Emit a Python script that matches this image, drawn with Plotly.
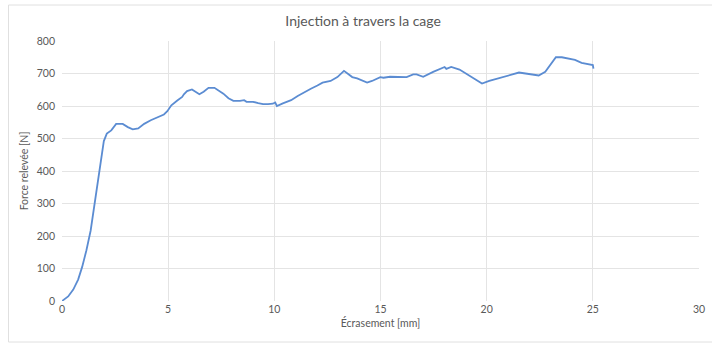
import plotly.graph_objects as go

ecrasement_mm = [0, 0.29, 0.53, 0.76, 0.95, 1.15, 1.35, 1.51, 1.66, 1.82, 1.97, 2.11, 2.32, 2.55, 2.86,
                 3.1, 3.33, 3.59, 3.87, 4.18, 4.49, 4.8, 4.96, 5.15, 5.43, 5.66, 5.74, 5.89, 6.12, 6.28,
                 6.47, 6.67, 6.9, 7.18, 7.37, 7.6, 7.84, 8.07, 8.38, 8.58, 8.69, 9.0, 9.24, 9.47, 9.7,
                 9.93, 10.04, 10.12, 10.4, 10.79, 11.1, 11.41, 11.72, 12.03, 12.27, 12.65, 12.97, 13.28,
                 13.43, 13.67, 13.9, 14.37, 14.6, 14.99, 15.14, 15.45, 16.23, 16.54, 16.7, 17.01, 17.48,
                 18.02, 18.1, 18.33, 18.72, 19.19, 19.78, 20.12, 20.58, 21.05, 21.52, 21.83, 22.14, 22.45,
                 22.76, 23.0, 23.26, 23.54, 23.85, 24.16, 24.47, 24.78, 25.0, 25.03]
force_N = [0, 14, 35, 66, 105, 156, 217, 288, 370, 441, 492, 515, 525, 545, 545,
           535, 528, 531, 545, 556, 566, 574, 584, 602, 617, 628, 636, 646, 651, 644,
           636, 644, 656, 656, 648, 638, 624, 616, 616, 618, 613, 613, 609, 606, 606,
           607, 611, 600, 608, 618, 631, 643, 653, 663, 672, 677, 689, 708,
           700, 689, 685, 672, 677, 689, 687, 690, 689, 697, 697, 690, 705,
           720, 714, 720, 712, 692, 669, 677, 686, 694, 703, 700, 697, 694,
           705, 728, 750, 750, 746, 742, 733, 728, 726, 715]

x_ticks = [0, 5, 10, 15, 20, 25, 30]
y_ticks = [0, 100, 200, 300, 400, 500, 600, 700, 800]

grey = "#595959"
font = "Lato, 'Open Sans', sans-serif"

fig = go.Figure()
fig.add_trace(go.Scatter(x=ecrasement_mm, y=force_N, mode="lines",
                         line=dict(color="#5B8CD2", width=1.8), showlegend=False))

fig.update_layout(
    width=712, height=347,
    margin=dict(l=62, r=7, t=41, b=46),
    paper_bgcolor="white", plot_bgcolor="white",
    font=dict(family=font, color=grey, size=11),
    title=dict(text="Injection à travers la cage", x=0.51, xanchor="center",
               y=0.94, yanchor="middle", font=dict(size=14, color=grey, family=font)),
    xaxis=dict(range=[0, 30], tickvals=x_ticks, showgrid=True, gridcolor="#e4e4e4",
               gridwidth=1, zeroline=False, showline=False, ticks="",
               tickfont=dict(size=10.5, color=grey),
               title=dict(text="Écrasement [mm]", font=dict(size=10.5, color=grey), standoff=6)),
    yaxis=dict(range=[0, 800], tickvals=y_ticks, showgrid=True, gridcolor="#e4e4e4",
               gridwidth=1, zeroline=False, showline=False, ticks="",
               tickfont=dict(size=10.5, color=grey), ticklabelstandoff=6,
               title=dict(text="Force relevée [N]", font=dict(size=10.5, color=grey), standoff=6)),
    shapes=[dict(type="rect", xref="paper", yref="paper",
                 x0=-54 / 643, x1=704 / 643, y0=-41 / 260, y1=1 + 36 / 260,
                 line=dict(color="#e0e0e0", width=1), fillcolor="rgba(0,0,0,0)", layer="below")],
)

fig.write_html("out.html", config={"displayModeBar": False},
               post_script="document.body.style.margin='0';document.body.style.overflow='hidden';")
